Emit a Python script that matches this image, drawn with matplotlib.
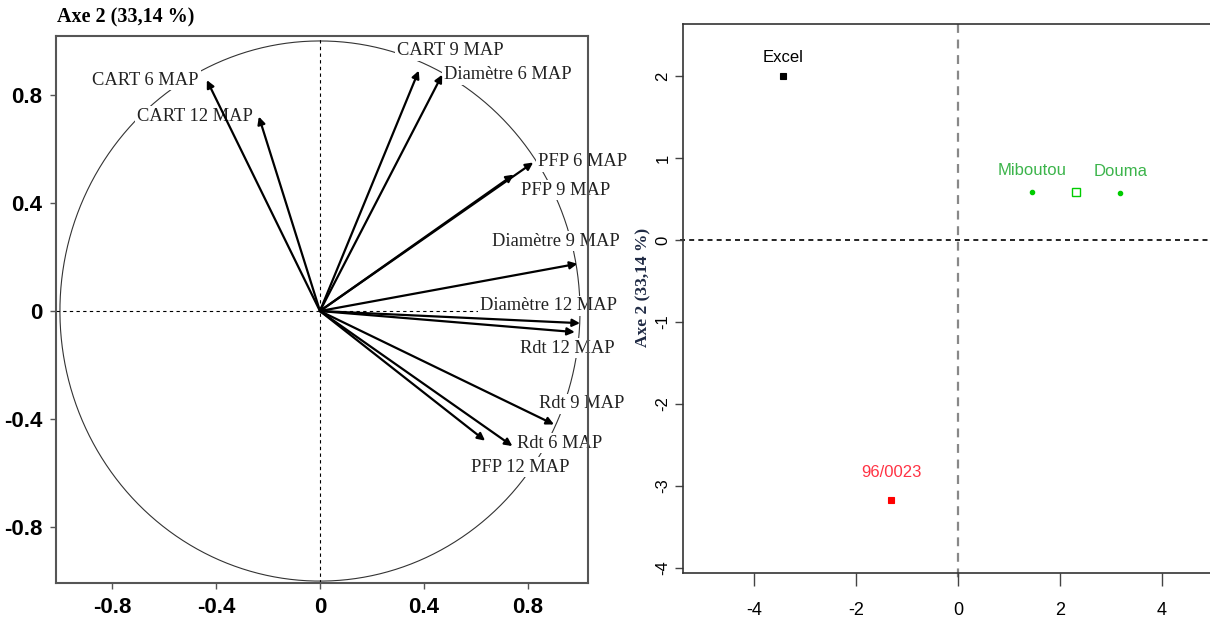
import numpy as np
import matplotlib.pyplot as plt

plt.rcParams['axes.unicode_minus'] = False

# ── Data: correlation circle (left) ────────────────────────
VAR_NAMES = ['CART 6 MAP', 'CART 12 MAP', 'CART 9 MAP', 'Diamètre 6 MAP',
             'PFP 6 MAP', 'PFP 9 MAP', 'Diamètre 9 MAP', 'Diamètre 12 MAP',
             'Rdt 12 MAP', 'Rdt 9 MAP', 'Rdt 6 MAP', 'PFP 12 MAP']
VAR_X = [-0.435, -0.235, 0.38, 0.47, 0.82, 0.745, 0.99, 1.00,
         0.98, 0.90, 0.74, 0.635]
VAR_Y = [0.855, 0.72, 0.89, 0.875, 0.55, 0.505, 0.175, -0.045,
         -0.078, -0.42, -0.50, -0.48]
LAB_X = [-0.67, -0.48, 0.50, 0.723, 1.008, 0.946, 0.908, 0.877,
         0.95, 1.008, 0.923, 0.77]
LAB_Y = [0.855, 0.72, 0.963, 0.874, 0.552, 0.448, 0.259, 0.019,
         -0.137, -0.344, -0.489, -0.578]
CIRCLE_TICKS = [-0.8, -0.4, 0, 0.4, 0.8]
CIRCLE_TICKLABELS = ['-0.8', '-0.4', '0', '0.4', '0.8']

# ── Data: individuals (right) ──────────────────────────────
IND_NAMES = ['Excel', 'Miboutou', 'Douma', '96/0023']
IND_X = [-3.43, 1.45, 3.18, -1.31]
IND_Y = [2.0, 0.585, 0.575, -3.17]
IND_LAB_Y = [2.23, 0.85, 0.83, -2.83]
IND_COLORS = ['black', '#3cb44b', '#3cb44b', '#ff3344']
GROUP_X = [2.31]
GROUP_Y = [0.58]
IND_XTICKS = [-4, -2, 0, 2, 4]
IND_YTICKS = [-4, -3, -2, -1, 0, 1, 2]

SANS = ['Liberation Sans', 'DejaVu Sans']
SERIF = ['Liberation Serif', 'DejaVu Serif']

fig = plt.figure(figsize=(12.1, 6.2), dpi=100)

# ══════════════════════════════════════════════════════════
# Left: correlation circle
# ══════════════════════════════════════════════════════════
ax1 = fig.add_axes([0.0463, 0.0597, 0.4397, 0.8823])
ax1.set_xlim(-1.015, 1.031)
ax1.set_ylim(-1.007, 1.0185)

t = np.linspace(0, 2 * np.pi, 400)
ax1.plot(np.cos(t), np.sin(t), color='#333333', lw=0.8, zorder=1)
ax1.axhline(0, color='black', lw=0.8, ls=(0, (3, 3)), zorder=1)
ax1.axvline(0, color='black', lw=0.8, ls=(0, (3, 3)), zorder=1)

for name, lx, ly in zip(VAR_NAMES, LAB_X, LAB_Y):
    ax1.text(lx, ly, name, ha='center', va='center', fontsize=13.3,
             family=SERIF, color='#222222', zorder=2, clip_on=False,
             bbox=dict(boxstyle='square,pad=0.1', fc='white', ec='none'))

for vx, vy in zip(VAR_X, VAR_Y):
    ax1.annotate('', xy=(vx, vy), xytext=(0, 0), zorder=3,
                 arrowprops=dict(arrowstyle='-|>', color='black', lw=1.6,
                                 mutation_scale=11, shrinkA=0, shrinkB=0))

ax1.set_xticks(CIRCLE_TICKS)
ax1.set_xticklabels(CIRCLE_TICKLABELS)
ax1.set_yticks(CIRCLE_TICKS)
ax1.set_yticklabels(CIRCLE_TICKLABELS)
for lab in ax1.get_xticklabels() + ax1.get_yticklabels():
    lab.set_family(SANS)
    lab.set_fontweight('bold')
    lab.set_fontsize(16)
ax1.tick_params(length=4, width=1, color='#555555', pad=6)
for sp in ax1.spines.values():
    sp.set_color('#555555')
    sp.set_linewidth(1.5)

fig.text(0.047, 0.971, 'Axe 2 (33,14 %)', family=SERIF, fontweight='bold',
         fontsize=14.5, ha='left', va='center')

# ══════════════════════════════════════════════════════════
# Right: individuals
# ══════════════════════════════════════════════════════════
ax2 = fig.add_axes([0.5645, 0.0758, 0.4355, 0.8855])
ax2.set_xlim(-5.39, 4.94)
ax2.set_ylim(-4.06, 2.634)

ax2.plot([-5.45, 5.2], [0, 0], color='black', lw=1.2, ls=(0, (3, 2.5)),
         clip_on=False, zorder=1)
ax2.plot([0, 0], [2.634, -4.2], color='#888888', lw=1.6, ls=(0, (4, 3)),
         clip_on=False, zorder=1)

for name, x, y, ly, c in zip(IND_NAMES, IND_X, IND_Y, IND_LAB_Y, IND_COLORS):
    if name == 'Excel':
        ax2.plot(x, y, 's', ms=5, mfc='black', mec='black', mew=0.8)
    elif name == '96/0023':
        ax2.plot(x, y, 's', ms=5, mfc='red', mec='red', mew=0.8)
    else:
        ax2.plot(x, y, 'o', ms=3, color='#00cc00')
    ax2.text(x, ly, name, ha='center', va='center', color=c,
             fontsize=12, family=SANS)

ax2.plot(GROUP_X, GROUP_Y, 's', ms=6, mfc='none', mec='#00cc00', mew=1.0)

ax2.set_xticks(IND_XTICKS)
ax2.set_yticks(IND_YTICKS)
for lab in ax2.get_xticklabels():
    lab.set_family(SANS)
    lab.set_fontsize(13)
for lab in ax2.get_yticklabels():
    lab.set_family(SANS)
    lab.set_fontsize(12)
    lab.set_rotation(90)
    lab.set_va('center')
ax2.tick_params(axis='y', length=6, width=1, color='#444444', pad=3)
ax2.tick_params(axis='x', length=9, width=1, color='#444444', pad=12)
ax2.spines['right'].set_visible(False)
for sp in ['left', 'bottom', 'top']:
    ax2.spines[sp].set_color('#333333')
    ax2.spines[sp].set_linewidth(1.2)

fig.text(643 / 1210, 1 - 287 / 620, 'Axe 2 (33,14 %)', family=SERIF,
         fontweight='bold', fontsize=12.5, color='#1f2a44', rotation=90,
         ha='center', va='center')

fig.savefig('out.png', dpi=100)
